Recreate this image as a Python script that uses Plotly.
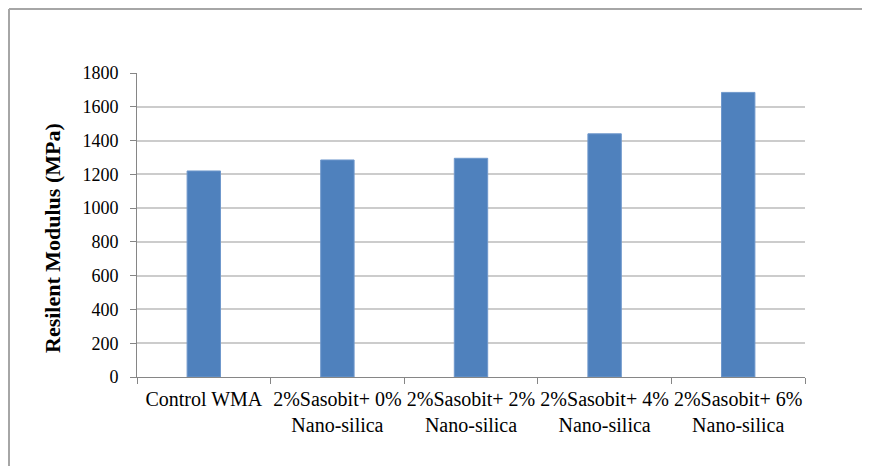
import plotly.graph_objects as go

categories = [
    "Control WMA",
    "2%Sasobit+ 0%<br>Nano-silica",
    "2%Sasobit+ 2%<br>Nano-silica",
    "2%Sasobit+ 4%<br>Nano-silica",
    "2%Sasobit+ 6%<br>Nano-silica",
]
values = [1220, 1285, 1295, 1440, 1685]
y_ticks = [0, 200, 400, 600, 800, 1000, 1200, 1400, 1600, 1800]
y_title = "<b>Resilent Modulus (MPa)</b>"

O = 8  # page body margin
W, H = 870 - O, 466 - O
L, R, T, B = 137 - O, 805 - O, 73 - O, 377 - O  # figure coordinates


def px(x):
    return (x - L) / (R - L)


def py(y):
    return (B - y) / (B - T)


fig = go.Figure(go.Bar(
    x=categories, y=values,
    marker=dict(color="#4f81bd", line=dict(color="#6f98cc", width=1)),
    width=0.25,
))

fig.update_layout(
    width=W, height=H,
    margin=dict(l=L, r=W - R, t=T, b=H - B, pad=0),
    paper_bgcolor="white", plot_bgcolor="white",
    font=dict(family="Liberation Serif, Times New Roman, serif", size=18, color="black"),
    showlegend=False,
    xaxis=dict(
        showline=True, linecolor="#868686", linewidth=1,
        ticks="outside", tickson="boundaries", ticklen=6, tickcolor="#868686",
        showgrid=False, tickfont=dict(size=20), ticklabelstandoff=4,
        tickangle=0, automargin=False,
    ),
    yaxis=dict(
        range=[0, 1800], tickvals=y_ticks,
        showline=True, linecolor="#868686", linewidth=1,
        ticks="outside", ticklen=6, tickcolor="#868686",
        showgrid=True, gridcolor="#cccccc", gridwidth=1.5,
        zeroline=False, tickfont=dict(size=18), ticklabelstandoff=8,
        automargin=False,
    ),
    annotations=[
        dict(text=y_title, xref="paper", yref="paper",
             x=px(52 - O), y=py(238 - O), textangle=-90,
             showarrow=False, xanchor="center", yanchor="middle",
             font=dict(size=22)),
    ],
    shapes=[
        dict(type="line", xref="paper", yref="paper",
             x0=px(1), y0=py(H + 5), x1=px(1), y1=py(1),
             line=dict(color="#a6a6a6", width=2)),
        dict(type="line", xref="paper", yref="paper",
             x0=px(1), y0=py(1), x1=px(W + 5), y1=py(1),
             line=dict(color="#a6a6a6", width=2)),
    ],
)

fig.write_html("out.html")
